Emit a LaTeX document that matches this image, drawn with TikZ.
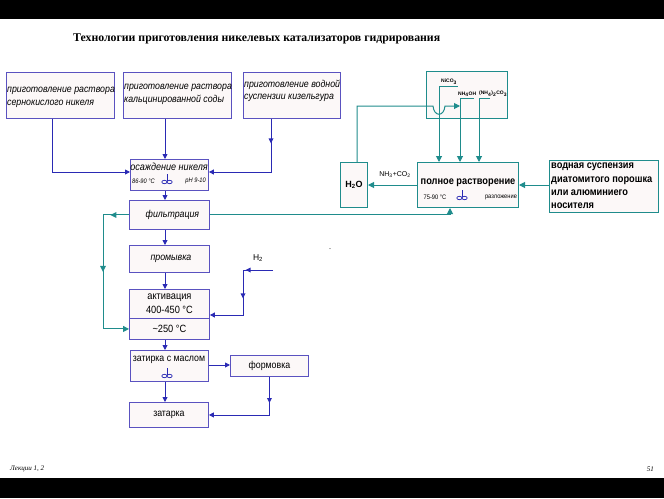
\documentclass[tikz,border=0pt]{standalone}
\usepackage{fontspec}
\setmainfont{Liberation Serif}
\setsansfont{Liberation Sans}
\newfontfamily\nsans[FakeStretch=0.88]{Liberation Sans}
\usetikzlibrary{arrows.meta,decorations.markings,positioning}
\definecolor{bbord}{HTML}{5A52C0}
\definecolor{barr}{HTML}{2A2AB4}
\definecolor{teal2}{HTML}{1F8C8C}
\definecolor{bfill}{HTML}{FCF8F8}
\tikzset{
  bbox/.style={draw=bbord,line width=0.9pt,fill=bfill,anchor=north west,inner sep=1pt,font=\nsans\itshape\fontsize{9.5}{11}\selectfont},
  tbox/.style={draw=teal2,line width=1pt,fill=bfill,anchor=north west,inner sep=1pt,font=\nsans\bfseries\fontsize{10.5}{12}\selectfont},
  btext/.style={anchor=north west,inner sep=0pt,align=left,font=\nsans\itshape\fontsize{10}{13}\selectfont},
  barrow/.style={draw=barr,line width=0.9pt,-{Triangle[length=5pt,width=5pt]}},
  tarrow/.style={draw=teal2,line width=1pt,-{Triangle[length=6pt,width=6pt]}},
  bline/.style={draw=barr,line width=0.9pt},
  tline/.style={draw=teal2,line width=1pt},
  midb/.style={postaction={decorate},decoration={markings,mark=at position #1 with {\fill[barr] (2.5pt,0) -- (-2.5pt,2.5pt) -- (-2.5pt,-2.5pt) -- cycle;}}},
  midt/.style={postaction={decorate},decoration={markings,mark=at position #1 with {\fill[teal2] (3pt,0) -- (-3pt,3pt) -- (-3pt,-3pt) -- cycle;}}},
  stir/.pic={\draw[barr,line width=0.7pt] (0,-5) -- (0,1.5); \draw[barr,line width=0.7pt] (-2.6,3) ellipse (2.6 and 1.7); \draw[barr,line width=0.7pt] (2.6,3) ellipse (2.6 and 1.7);},
  small/.style={font=\nsans\itshape\fontsize{6.5}{7}\selectfont,inner sep=0pt},
}
\begin{document}
\begin{tikzpicture}[x=1pt,y=-1pt]
\useasboundingbox (0,0) rectangle (664,498);
\fill[black] (0,0) rectangle (664,19);
\fill[black] (0,478) rectangle (664,498);
\node[font=\bfseries\fontsize{11.8}{13}\selectfont,anchor=base west,inner sep=0pt] (title) at (73,41) {Технологии приготовления никелевых катализаторов гидрирования};
\node[font=\itshape\fontsize{7}{8}\selectfont,anchor=west,inner sep=0pt] (foot1) at (10,469) {Лекции 1, 2};
\node[font=\itshape\fontsize{7}{8}\selectfont,anchor=east,inner sep=0pt] (foot2) at (654,469) {51};
\node[font=\fontsize{8}{8}\selectfont,inner sep=0pt] (dot) at (330,249) {.};

% blue boxes
\node[bbox,minimum width=108pt,minimum height=46pt] (b1) at (6,72) {};
\node[btext] (b1t) at (7,87) {приготовление раствора\\сернокислого никеля};
\node[bbox,minimum width=108pt,minimum height=46pt] (b2) at (123,72) {};
\node[btext] (b2t) at (124,84) {приготовление раствора\\кальцинированной соды};
\node[bbox,minimum width=97pt,minimum height=46pt] (b3) at (243,72) {};
\node[btext,font=\nsans\itshape\fontsize{10}{12}\selectfont] (b3t) at (244,80) {приготовление водной\\суспензии кизельгура};

\node[bbox,minimum width=78pt,minimum height=31pt] (osa) at (130,159) {};
\node[font=\nsans\itshape\fontsize{10.3}{12}\selectfont,inner sep=0pt] (osat) at (169,167) {осаждение никеля};
\node[small,anchor=west] (osal) at (132,181) {86-90 °C};
\node[small,anchor=east] (osar) at (206,181) {pH 9-10};
\pic at (167,179) {stir};

\node[bbox,minimum width=80pt,minimum height=29pt,font=\nsans\itshape\fontsize{10}{12}\selectfont] (fil) at (129,200) {\hspace{6pt}фильтрация};
\node[bbox,minimum width=80pt,minimum height=27pt,font=\nsans\itshape\fontsize{10}{12}\selectfont] (pro) at (129,245) {\hspace{3pt}промывка};
\node[bbox,minimum width=80pt,minimum height=29pt,align=center,font=\nsans\fontsize{10.5}{14}\selectfont] (actT) at (129,289) {активация\\400-450 °C};
\node[bbox,minimum width=80pt,minimum height=21pt,font=\nsans\fontsize{10.5}{12}\selectfont] (actB) at (129,318) {\textasciitilde 250 °C};
\node[bbox,minimum width=78pt,minimum height=31pt] (zat) at (130,350) {};
\node[font=\nsans\fontsize{10}{11}\selectfont,inner sep=0pt] (zatt) at (169,360) {затирка с маслом};
\pic at (167,373) {stir};
\node[bbox,minimum width=78pt,minimum height=21pt,font=\nsans\fontsize{10}{12}\selectfont] (form) at (230,355) {формовка};
\node[bbox,minimum width=79pt,minimum height=25pt,font=\nsans\fontsize{10}{12}\selectfont] (zatk) at (129,402) {затарка};

\coordinate (cx) at (165,0);
% blue connectors
\draw[barrow] ([xshift=-8pt]b1.south) |- (osa.west |- 0,172);
\draw[barrow] (b2.south -| cx) -- (osa.north -| cx);
\draw[barrow,midb=0.19] (b3.south -| 271,0) |- (osa.east |- 0,172);
\draw[barrow] (osa.south -| cx) -- (fil.north -| cx);
\draw[barrow] (fil.south -| cx) -- (pro.north -| cx);
\draw[barrow] (pro.south -| cx) -- (actT.north -| cx);
\draw[barrow] (actB.south -| cx) -- (zat.north -| cx);
\draw[barrow] (zat.south -| cx) -- (zatk.north -| cx);
\draw[barrow] (zat.east |- 0,365) -- (form.west |- 0,365);
\draw[barrow,midb=0.24] (form.south) |- (zatk.east);
\node[font=\sffamily\fontsize{8.5}{9}\selectfont,inner sep=0pt] (h2) at (258,258) {H\textsubscript{2}};
\coordinate (h2s) at (273,270);
\coordinate (h2c) at (243,270);
\draw[bline,midb=0.83] (h2s) -- (h2c);
\draw[barrow,midb=0.33] (h2c) -- (243,315) -- (actT.east |- 0,315);

% teal boxes
\node[tbox,minimum width=81pt,minimum height=47pt] (top) at (426,71) {};
\node[tbox,minimum width=27pt,minimum height=45pt,font=\sffamily\bfseries\fontsize{9}{11}\selectfont] (h2o) at (340,162) {H\textsubscript{2}O};
\node[tbox,minimum width=101pt,minimum height=45pt] (pr) at (417,162) {};
\node[font=\nsans\bfseries\fontsize{10.5}{12}\selectfont,inner sep=0pt] (prt) at (468,183) {полное растворение};
\node[font=\nsans\fontsize{6.5}{7}\selectfont,inner sep=0pt] (prl) at (435,197) {75-90 °C};
\node[font=\nsans\fontsize{6.5}{7}\selectfont,inner sep=0pt] (prr) at (501,197) {разложение};
\pic at (462,195) {stir};
\node[tbox,minimum width=109pt,minimum height=52pt] (vs) at (549,160) {};
\node[anchor=north west,inner sep=0pt,align=left,font=\nsans\bfseries\fontsize{10.5}{13.2}\selectfont] (vst) at (551,163) {водная суспензия\\диатомитого порошка\\или алюминиего\\носителя};

% top box labels
\node[font=\sffamily\bfseries\fontsize{5}{6}\selectfont,inner sep=0pt,anchor=south west] (ni) at (441,85) {NiCO\textsubscript{3}};
\node[font=\sffamily\bfseries\fontsize{5}{6}\selectfont,inner sep=0pt,anchor=south west] (nh) at (458,97) {NH\textsubscript{4}OH};
\node[font=\sffamily\bfseries\fontsize{5}{6}\selectfont,inner sep=0pt,anchor=south west] (nhc) at (479,97) {(NH\textsubscript{4})\textsubscript{2}CO\textsubscript{3}};
\coordinate (niA) at (439,86);
\coordinate (nhA) at (460,98);
\coordinate (nhcA) at (479,98);
\draw[tline] (niA) -- (458,86);
\draw[tline] (nhA) -- (474,98);
\draw[tline] (nhcA) -- (490,98);
\draw[tarrow] (niA) -- (pr.north -| niA);
\draw[tarrow] (nhA) -- (pr.north -| nhA);
\draw[tarrow] (nhcA) -- (pr.north -| nhcA);
\draw[tarrow] ([xshift=3pt]h2o.north) -- ([xshift=3pt]h2o.north |- 0,106) -- (433,106) .. controls (434,117) and (444,117) .. (445,106) -- (nhA |- 0,106);

\draw[tarrow] (pr.west) -- (h2o.east);
\node[font=\sffamily\fontsize{7}{8}\selectfont,inner sep=0pt] (nhco) at (395,175) {NH\textsubscript{3}+CO\textsubscript{2}};
\draw[tarrow] (vs.west |- pr.east) -- (pr.east);
\draw[tarrow] (fil.east) -| (pr.south -| 450,0);
\coordinate (tl) at (103,0);
\draw[tline,midt=0.6] (fil.west) -- (fil.west -| tl);
\draw[tarrow,midt=0.385] (fil.west -| tl) -- (actB.west -| tl) -- (actB.west);
\end{tikzpicture}
\end{document}
